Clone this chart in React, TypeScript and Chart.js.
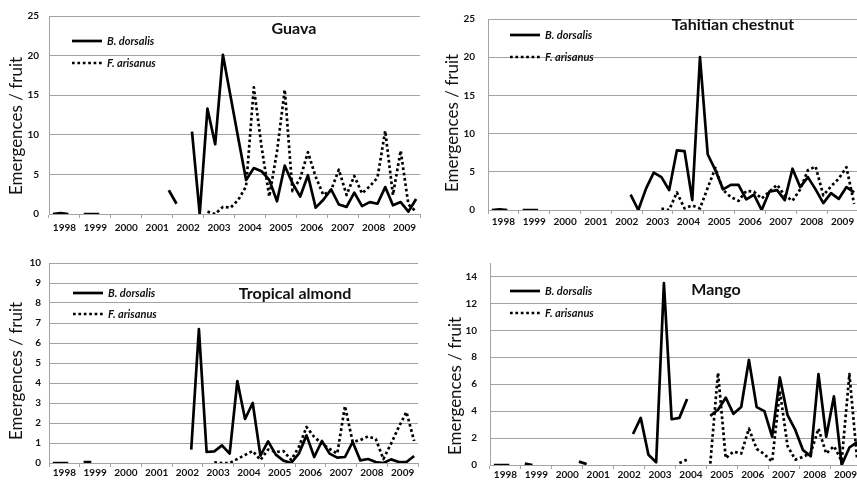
import React, { useEffect, useRef } from "react";
import { Chart, registerables } from "chart.js";

Chart.register(...registerables);

const N = null;

const years = ["1998", "1999", "2000", "2001", "2002", "2003", "2004", "2005", "2006", "2007", "2008", "2009"];
const quarterNames = ["Q1", "Q2", "Q3", "Q4"];
const seriesNames = ["B. dorsalis", "F. arisanus"];
const yAxisTitle = "Emergences / fruit";

// quarterly values, 4 per year 1998..2009
const guavaBd = [
  0, 0.1, 0, N, 0, 0, 0, N, N, N, N, N, N, N, N, 3.0,
  1.3, N, 10.4, 0, 13.3, 8.8, 20.1, 14.8, 9.5, 4.3, 5.8, 5.4,
  4.3, 1.6, 6.1, 3.9, 2.2, 4.9, 0.8, 1.8, 3.1, 1.2, 0.9, 2.7,
  1.0, 1.5, 1.3, 3.4, 1.1, 1.5, 0.3, 1.9,
];
const guavaFa = [
  N, N, N, N, N, N, N, N, N, N, N, N, N, N, N, N,
  N, N, N, N, 0.3, 0, 0.9, 0.8, 1.8, 3.5, 16.0, 8.5,
  2.2, 7.9, 15.7, 2.9, 4.5, 7.8, 4.7, 2.4, 3.0, 5.6, 2.4, 4.8,
  2.6, 3.5, 4.6, 10.5, 2.4, 8.0, 1.2, 0.3,
];
const chestnutBd = [
  0, 0.1, 0, N, 0, 0, 0, N, N, N, N, N, N, N, N, N,
  N, N, 2.0, 0, 2.8, 4.9, 4.3, 2.6, 7.8, 7.7, 1.3, 20.0,
  7.3, 5.2, 2.7, 3.3, 3.3, 1.4, 2.0, 0, 2.4, 2.6, 1.3, 5.4,
  3.0, 4.3, 2.7, 0.9, 2.2, 1.45, 3.0, 2.3,
];
const chestnutFa = [
  N, N, N, N, N, N, N, N, N, N, N, N, N, N, N, N,
  N, N, N, N, N, N, 0.2, 0, 2.3, 0.2, 0.6, 0.2,
  2.9, 5.5, 2.6, 1.7, 1.2, 2.5, 2.4, 1.5, 2.4, 3.3, 1.9, 1.2,
  2.7, 5.2, 5.7, 1.9, 3.1, 4.1, 5.6, 0.8,
];
const almondBd = [
  0, 0, 0, N, 0.05, 0.05, N, N, N, N, N, N, N, N, N, N,
  N, N, 0.67, 6.7, 0.55, 0.58, 0.88, 0.47, 4.1, 2.2, 3.0, 0.37,
  1.08, 0.42, 0.12, 0, 0.47, 1.38, 0.3, 1.1, 0.47, 0.27, 0.3, 1.05,
  0.13, 0.2, 0.05, 0, 0.18, 0.05, 0.05, 0.35,
];
const almondFa = [
  N, N, N, N, N, N, N, N, N, N, N, N, N, N, N, N,
  N, N, N, N, N, 0.03, 0, 0, 0.2, 0.4, 0.6, 0.15,
  0.67, 0.55, 0.6, 0.15, 0.8, 1.8, 1.3, 0.97, 0.7, 0.47, 2.85, 1.05,
  1.15, 1.33, 1.2, 0.2, 0.97, 1.8, 2.55, 1.1,
];
const mangoBd = [
  0, 0, 0, N, 0.1, 0, N, N, N, N, N, 0.25, 0.07, N, N, N,
  N, N, 2.3, 3.5, 0.76, 0.2, 13.5, 3.4, 3.5, 4.9, N, N,
  3.65, 4.1, 5.0, 3.8, 4.3, 7.8, 4.3, 4.0, 2.1, 6.5, 3.7, 2.6,
  1.1, 0.65, 6.75, 2.1, 5.1, 0, 1.3, 1.7,
];
const mangoFa = [
  N, N, N, N, N, N, N, N, N, N, N, N, N, N, N, N,
  N, N, N, N, N, N, N, N, 0.15, 0.4, N, N,
  0.1, 6.85, 0.5, 1.0, 0.85, 2.7, 1.2, 0.8, 0.25, 5.5, 1.4, 0.4,
  0.6, 0.9, 2.7, 0.85, 1.4, 0.3, 6.75, 0.4,
];

const quarterLabels = years.flatMap((y) => quarterNames.map((q) => `${y} ${q}`));

const FONT = "Lato, 'Open Sans', sans-serif";
const GRID = "#a3a3a3";
const TEXT = "#111111";

const overlayPlugin = {
  id: "overlay",
  afterDraw(chart: any, _args: any, o: any) {
    const ctx = chart.ctx as CanvasRenderingContext2D;
    ctx.save();
    ctx.fillStyle = TEXT;
    // in-plot title
    ctx.font = `bold 16px ${FONT}`;
    ctx.textAlign = "center";
    ctx.textBaseline = "middle";
    ctx.fillText(o.title, o.titleX, o.titleY);
    // legend
    chart.data.datasets.forEach((ds: any, k: number) => {
      const y = o.legendY + k * o.legendGap;
      ctx.save();
      ctx.beginPath();
      ctx.strokeStyle = ds.borderColor;
      ctx.lineWidth = ds.borderWidth;
      ctx.setLineDash(ds.borderDash || []);
      ctx.moveTo(o.legendX, y);
      ctx.lineTo(o.legendX + 30, y);
      ctx.stroke();
      ctx.restore();
      ctx.font = `italic bold 11px ${FONT}`;
      ctx.textAlign = "left";
      ctx.textBaseline = "middle";
      ctx.fillText(ds.label, o.legendX + 35, y);
    });
    // y axis title
    ctx.translate(o.yTitleX, o.yTitleY);
    ctx.rotate(-Math.PI / 2);
    ctx.font = `17px ${FONT}`;
    ctx.textAlign = "center";
    ctx.textBaseline = "middle";
    ctx.fillText(yAxisTitle, 0, 0);
    ctx.restore();
  },
};

type Cfg = {
  title: string;
  bd: (number | null)[];
  fa: (number | null)[];
  yMax: number;
  yStep: number;
  yShowMax: number;
  left: number;
  top: number;
  w: number;
  h: number;
  axisW: number;
  axisH: number;
  padTop: number;
  padRight: number;
  yPad: number;
  xPad: number;
  titleX: number;
  titleY: number;
  legendX: number;
  legendY: number;
  legendGap: number;
  yTitleX: number;
  yTitleY: number;
};

const panels: Cfg[] = [
  {
    title: "Guava", bd: guavaBd, fa: guavaFa, yMax: 25, yStep: 5, yShowMax: 25,
    left: 0, top: 0, w: 428, h: 242, axisW: 49, axisH: 28, padTop: 13, padRight: 8,
    yPad: 10, xPad: 4, titleX: 294, titleY: 29, legendX: 72, legendY: 41, legendGap: 22,
    yTitleX: 17, yTitleY: 126,
  },
  {
    title: "Tahitian chestnut", bd: chestnutBd, fa: chestnutFa, yMax: 25, yStep: 5, yShowMax: 25,
    left: 428, top: 0, w: 440, h: 242, axisW: 60, axisH: 32, padTop: 9, padRight: 10,
    yPad: 13, xPad: 2, titleX: 305, titleY: 25, legendX: 82, legendY: 35, legendGap: 22,
    yTitleX: 25, yTitleY: 123,
  },
  {
    title: "Tropical almond", bd: almondBd, fa: almondFa, yMax: 10, yStep: 1, yShowMax: 10,
    left: 0, top: 242, w: 428, h: 242, axisW: 49, axisH: 21, padTop: 21, padRight: 10,
    yPad: 8, xPad: 0, titleX: 295, titleY: 52, legendX: 73, legendY: 51, legendGap: 21,
    yTitleX: 17, yTitleY: 129,
  },
  {
    title: "Mango", bd: mangoBd, fa: mangoFa, yMax: 15, yStep: 2, yShowMax: 14,
    left: 428, top: 242, w: 440, h: 242, axisW: 62, axisH: 19, padTop: 21, padRight: 7,
    yPad: 13, xPad: 0, titleX: 288, titleY: 48, legendX: 82, legendY: 49, legendGap: 22,
    yTitleX: 28, yTitleY: 144,
  },
];

function PanelChart({ cfg }: { cfg: Cfg }) {
  const ref = useRef<HTMLCanvasElement>(null);
  useEffect(() => {
    if (!ref.current) return;
    const tickFont = { family: FONT, size: 10, weight: "bold" as const };
    const chart = new Chart(ref.current, {
      type: "line",
      data: {
        labels: quarterLabels,
        datasets: [
          {
            label: seriesNames[0],
            data: cfg.bd,
            borderColor: "#000",
            borderWidth: 2.7,
            pointRadius: 0,
            tension: 0,
            borderJoinStyle: "round",
            spanGaps: false,
            xAxisID: "x",
            yAxisID: "y",
          },
          {
            label: seriesNames[1],
            data: cfg.fa,
            borderColor: "#000",
            borderWidth: 2.7,
            borderDash: [2.7, 2.7],
            pointRadius: 0,
            tension: 0,
            borderJoinStyle: "round",
            spanGaps: false,
            xAxisID: "x",
            yAxisID: "y",
          },
        ],
      },
      options: {
        animation: false,
        responsive: false,
        maintainAspectRatio: false,
        events: [],
        layout: { padding: { left: 0, top: cfg.padTop, right: cfg.padRight, bottom: 0 } },
        plugins: {
          legend: { display: false },
          tooltip: { enabled: false },
          title: { display: false },
          overlay: {
            title: cfg.title,
            titleX: cfg.titleX,
            titleY: cfg.titleY,
            legendX: cfg.legendX,
            legendY: cfg.legendY,
            legendGap: cfg.legendGap,
            yTitleX: cfg.yTitleX,
            yTitleY: cfg.yTitleY,
          },
        } as any,
        scales: {
          x: {
            type: "category",
            offset: true,
            display: false,
          },
          years: {
            type: "category",
            position: "bottom",
            labels: years,
            offset: true,
            grid: {
              display: true,
              drawOnChartArea: false,
              offset: true,
              drawTicks: true,
              tickLength: 4,
              color: GRID,
              lineWidth: 1,
            },
            border: { display: true, color: GRID, width: 1 },
            ticks: {
              font: tickFont,
              color: TEXT,
              padding: cfg.xPad,
              maxRotation: 0,
              autoSkip: false,
            },
            afterFit: (s: any) => {
              s.height = cfg.axisH;
            },
          },
          y: {
            type: "linear",
            min: 0,
            max: cfg.yMax,
            ticks: {
              stepSize: cfg.yStep,
              font: tickFont,
              color: TEXT,
              padding: cfg.yPad,
            },
            grid: { color: GRID, lineWidth: 1, drawTicks: false },
            border: { display: true, color: GRID, width: 1 },
            afterBuildTicks: (s: any) => {
              s.ticks = s.ticks.filter((t: any) => t.value <= cfg.yShowMax);
            },
            afterFit: (s: any) => {
              s.width = cfg.axisW;
            },
          },
        } as any,
      },
      plugins: [overlayPlugin as any],
    });
    return () => chart.destroy();
  }, [cfg]);
  return (
    <canvas
      ref={ref}
      width={cfg.w}
      height={cfg.h}
      style={{ position: "absolute", left: cfg.left, top: cfg.top, width: cfg.w, height: cfg.h }}
    />
  );
}

export default function App() {
  return (
    <div
      style={{
        position: "absolute",
        left: 0,
        top: 0,
        width: 857,
        height: 484,
        overflow: "hidden",
        background: "#fff",
      }}
    >
      {panels.map((p) => (
        <PanelChart key={p.title} cfg={p} />
      ))}
    </div>
  );
}
